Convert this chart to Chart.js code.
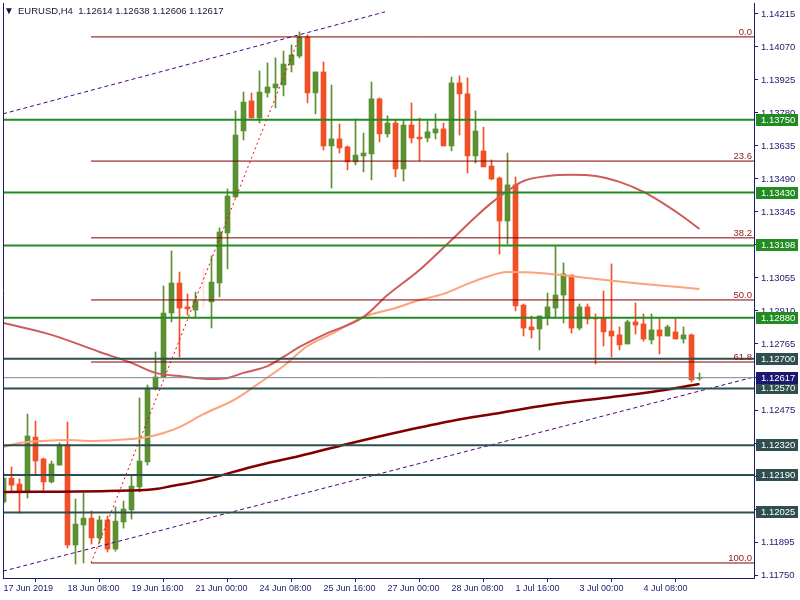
<!DOCTYPE html>
<html>
<head>
<meta charset="utf-8">
<title>EURUSD,H4</title>
<script src="https://cdn.jsdelivr.net/npm/chart.js"></script>
<style>
  html, body { margin: 0; padding: 0; background: #fff; }
  #chart { display: block; }
</style>
</head>
<body>
<canvas id="chart" width="800" height="600"></canvas>
<script>
// --- EURUSD H4 candles (bar 0 = 17 Jun 2019 00:00) ---
const opens = [
  1.12071, 1.12176, 1.12150, 1.12119, 1.12356, 1.12260, 1.12159, 1.12233, 1.12321, 1.11882,
  1.11970, 1.12000, 1.11913, 1.11992, 1.11864, 1.11983, 1.12036, 1.12137, 1.12247, 1.12572,
  1.12620, 1.12901, 1.13033, 1.12928, 1.12914, 1.12954, 1.12950, 1.13033, 1.13253, 1.13411,
  1.13701, 1.13833, 1.13758, 1.13868, 1.13890, 1.13903, 1.13991, 1.14030, 1.14114, 1.13868,
  1.13960, 1.13635, 1.13666, 1.13631, 1.13565, 1.13591, 1.13600, 1.13842, 1.13688, 1.13736,
  1.13534, 1.13727, 1.13674, 1.13670, 1.13692, 1.13710, 1.13635, 1.13912, 1.13864, 1.13591,
  1.13613, 1.13547, 1.13494, 1.13305, 1.13464, 1.12936, 1.12840, 1.12831, 1.12884, 1.12923,
  1.12980, 1.13068, 1.12835, 1.12928, 1.12879, 1.12879, 1.12822, 1.12805, 1.12765, 1.12862,
  1.12853, 1.12783, 1.12827, 1.12800, 1.12818, 1.12787, 1.12805, 1.12614
];
const highs = [
  1.12198, 1.12225, 1.12172, 1.12457, 1.12427, 1.12264, 1.12251, 1.12330, 1.12422, 1.12084,
  1.12110, 1.12031, 1.12009, 1.12009, 1.12049, 1.12075, 1.12189, 1.12528, 1.12585, 1.12730,
  1.13020, 1.13174, 1.13081, 1.12985, 1.12993, 1.13095, 1.13152, 1.13275, 1.13446, 1.13789,
  1.13872, 1.13868, 1.13965, 1.14000, 1.14022, 1.14052, 1.14079, 1.14136, 1.14123, 1.13960,
  1.14004, 1.13903, 1.13732, 1.13635, 1.13754, 1.13692, 1.13916, 1.13846, 1.13767, 1.13749,
  1.13749, 1.13824, 1.13758, 1.13745, 1.13776, 1.13736, 1.13938, 1.13943, 1.13934, 1.13789,
  1.13718, 1.13574, 1.13499, 1.13604, 1.13499, 1.12941, 1.12888, 1.12888, 1.12989, 1.13196,
  1.13121, 1.13068, 1.12941, 1.12941, 1.12897, 1.12998, 1.13117, 1.12840, 1.12870, 1.12945,
  1.12897, 1.12897, 1.12879, 1.12848, 1.12879, 1.12840, 1.12809, 1.12638
];
const lows = [
  1.12062, 1.12115, 1.12022, 1.12088, 1.12194, 1.12123, 1.12154, 1.12233, 1.11869, 1.11798,
  1.11803, 1.11886, 1.11891, 1.11851, 1.11855, 1.11956, 1.11996, 1.12115, 1.12233, 1.12563,
  1.12616, 1.12862, 1.12708, 1.12892, 1.12884, 1.12928, 1.12835, 1.12972, 1.13095, 1.13407,
  1.13661, 1.13758, 1.13736, 1.13850, 1.13802, 1.13855, 1.13960, 1.14022, 1.13824, 1.13776,
  1.13617, 1.13450, 1.13604, 1.13530, 1.13552, 1.13521, 1.13486, 1.13653, 1.13674, 1.13499,
  1.13481, 1.13648, 1.13569, 1.13653, 1.13666, 1.13635, 1.13613, 1.13683, 1.13516, 1.13560,
  1.13543, 1.13486, 1.13160, 1.13204, 1.12910, 1.12800, 1.12791, 1.12739, 1.12848, 1.12884,
  1.12857, 1.12813, 1.12827, 1.12853, 1.12677, 1.12756, 1.12708, 1.12739, 1.12765, 1.12809,
  1.12778, 1.12765, 1.12721, 1.12800, 1.12787, 1.12769, 1.12598, 1.12606
];
const closes = [
  1.12176, 1.12145, 1.12119, 1.12361, 1.12251, 1.12159, 1.12238, 1.12321, 1.11882, 1.11974,
  1.12000, 1.11913, 1.11992, 1.11864, 1.11987, 1.12040, 1.12141, 1.12251, 1.12572, 1.12620,
  1.12901, 1.13033, 1.12923, 1.12919, 1.12954, 1.12954, 1.13037, 1.13257, 1.13415, 1.13683,
  1.13828, 1.13758, 1.13872, 1.13894, 1.13907, 1.13995, 1.14035, 1.14114, 1.13868, 1.13960,
  1.13635, 1.13666, 1.13626, 1.13565, 1.13595, 1.13604, 1.13842, 1.13688, 1.13736, 1.13534,
  1.13727, 1.13670, 1.13666, 1.13697, 1.13710, 1.13635, 1.13912, 1.13864, 1.13591, 1.13701,
  1.13543, 1.13490, 1.13305, 1.13464, 1.12932, 1.12835, 1.12827, 1.12888, 1.12928, 1.12980,
  1.13073, 1.12835, 1.12928, 1.12875, 1.12875, 1.12818, 1.12800, 1.12761, 1.12862, 1.12848,
  1.12787, 1.12827, 1.12800, 1.12840, 1.12787, 1.12805, 1.12607, 1.12617
];

const maLongBars = [0, 13, 19, 21, 25, 31, 37, 43, 50, 56, 62, 68, 75, 81, 87];
const maLong = [1.12115, 1.12119, 1.12128, 1.12141, 1.12167, 1.12225, 1.12273, 1.12326,
                1.12383, 1.12427, 1.12462, 1.12497, 1.12528, 1.12554, 1.12589];
const maMidBars = [0, 2, 5, 8, 11, 14, 16, 18, 20, 22, 25, 29, 32, 35, 38, 41, 45, 49, 52, 55,
                   58, 60, 63, 67, 73, 80, 87];
const maMid = [1.12312, 1.12330, 1.12339, 1.12343, 1.12339, 1.12343, 1.12348, 1.12356, 1.12374,
               1.12400, 1.12457, 1.12523, 1.12594, 1.12668, 1.12756, 1.12809, 1.12884, 1.12923,
               1.12958, 1.12985, 1.13029, 1.13055, 1.13081, 1.13077, 1.13055, 1.13029, 1.13007];
const maShortBars = [0, 6, 12, 16, 19, 22, 26, 28, 30, 33, 35, 37, 40, 45, 48, 52, 56, 59, 61,
                     63, 65, 68, 71, 74, 77, 80, 83, 85, 87];
const maShort = [1.12857, 1.12805, 1.12730, 1.12682, 1.12638, 1.12624, 1.12611, 1.12616, 1.12638,
                 1.12668, 1.12708, 1.12752, 1.12805, 1.12884, 1.12980, 1.13090, 1.13222, 1.13323,
                 1.13385, 1.13437, 1.13481, 1.13503, 1.13508, 1.13503, 1.13477, 1.13433, 1.13371,
                 1.13323, 1.13270];

// horizontal levels
const greenLevels = [1.13750, 1.13430, 1.13198, 1.12880];
const slateLevels = [1.12700, 1.12570, 1.12320, 1.12190, 1.12025];

// fibo retracement: anchor bars / prices
const fibBars = [10.94, 37];
const fibPrices = [1.11803, 1.14114];
const fibRatios = [0, 23.6, 38.2, 50, 61.8, 100];

// channel
const chanLowBars = [-0.06, 93.81];
const chanLowPrices = [1.11767, 1.12620];
const chanHighBars = [-0.06, 47.69];
const chanHighPrices = [1.13776, 1.14224];

// axes
const xTickBars = [0, 8, 16, 24, 32, 40, 48, 56, 64, 72, 80];
const xTickLabels = ['17 Jun 2019', '18 Jun 08:00', '19 Jun 16:00', '21 Jun 00:00', '24 Jun 08:00',
                     '25 Jun 16:00', '27 Jun 00:00', '28 Jun 08:00', '1 Jul 16:00', '3 Jul 00:00', '4 Jul 08:00'];
const yTicks = [1.14215, 1.14070, 1.13925, 1.13780, 1.13635, 1.13490, 1.13345, 1.13200, 1.13055,
                1.12910, 1.12765, 1.12620, 1.12475, 1.12330, 1.12185, 1.12040, 1.11895, 1.11750];

// --- styling ---
const BULL = '#5b9033', BEAR = '#f14f25', DOJI = '#f3e4dc';
const AXIS = '#1b1b6e';
const FONT = '"Liberation Sans", Arial, sans-serif';
const X_MIN = -0.0625, X_MAX = 93.8125;
const Y_MIN = 1.11737, Y_MAX = 1.14263;

const last = closes.length - 1;
const bid = closes[last];
const candleColors = opens.map((o, i) => closes[i] > o ? BULL : (closes[i] < o ? BEAR : DOJI));

function pts(bars, vals) { return bars.map((b, i) => ({ x: b, y: vals[i] })); }

function lineSet(data, color, width, order, dash) {
    return {
        type: 'line', data, borderColor: color, borderWidth: width, borderDash: dash || [],
        pointRadius: 0, fill: false, order, cubicInterpolationMode: 'monotone'
    };
}

const fibLevels = fibRatios.map(r => fibPrices[1] - r / 100 * (fibPrices[1] - fibPrices[0]));

const datasets = [
    {   // wicks
        type: 'bar', data: highs.map((h, i) => ({ x: i, y: [lows[i], h] })),
        backgroundColor: candleColors, barThickness: 1, grouped: false, order: 20
    },
    {   // bodies
        type: 'bar', data: opens.map((o, i) => ({ x: i, y: [o, closes[i]] })),
        backgroundColor: candleColors, barThickness: 5, minBarLength: 1, grouped: false, order: 19
    },
    lineSet(pts(maLongBars, maLong), '#800000', 2.5, 10),
    lineSet(pts(maMidBars, maMid), '#fca27c', 2, 9),
    lineSet(pts(maShortBars, maShort), '#cd5c5c', 2, 8),
    lineSet(pts(chanLowBars, chanLowPrices), '#4b0082', 1, 5, [4, 3]),
    lineSet(pts(chanHighBars, chanHighPrices), '#4b0082', 1, 5, [4, 3]),
    lineSet(pts(fibBars, fibPrices), '#ff0000', 1, 5, [2, 3]),
];
fibLevels.forEach(v => datasets.push(lineSet([{ x: fibBars[0], y: v }, { x: X_MAX, y: v }], '#800000', 1, 4)));
greenLevels.forEach(v => datasets.push(lineSet([{ x: X_MIN, y: v }, { x: X_MAX, y: v }], '#228b22', 2, 2)));
slateLevels.forEach(v => datasets.push(lineSet([{ x: X_MIN, y: v }, { x: X_MAX, y: v }], '#2f4f4f', 2, 2)));
datasets.push(lineSet([{ x: X_MIN, y: bid }, { x: X_MAX, y: bid }], '#778899', 1, 3));

// --- frame, price tags, fibo captions, title ---
const overlay = {
    id: 'overlay',
    afterDraw(chart) {
        const { ctx, chartArea: a, scales: { y } } = chart;
        ctx.save();
        ctx.strokeStyle = AXIS;
        ctx.lineWidth = 1;
        ctx.beginPath();
        ctx.moveTo(a.left + 0.5, a.top);
        ctx.lineTo(a.left + 0.5, a.bottom);
        ctx.stroke();

        ctx.font = '9.5px ' + FONT;
        ctx.textAlign = 'right';
        ctx.textBaseline = 'alphabetic';
        ctx.fillStyle = '#8b1a10';
        fibLevels.forEach((v, i) => {
            ctx.fillText(fibRatios[i].toFixed(1), a.right - 2, Math.round(y.getPixelForValue(v)) - 2);
        });

        const tag = (v, bg) => {
            const py = Math.round(y.getPixelForValue(v));
            ctx.fillStyle = bg;
            ctx.fillRect(a.right + 2, py - 6, 42, 12);
            ctx.fillStyle = '#ffffff';
            ctx.textAlign = 'left';
            ctx.textBaseline = 'middle';
            ctx.fillText(v.toFixed(5), a.right + 7, py);
        };
        greenLevels.forEach(v => tag(v, '#228b22'));
        slateLevels.forEach(v => tag(v, '#2f4f4f'));
        tag(bid, '#191970');

        ctx.fillStyle = '#14143c';
        ctx.textAlign = 'left';
        ctx.textBaseline = 'middle';
        ctx.font = '10px ' + FONT;
        ctx.fillText('▼', 4, 11);
        ctx.font = '9.5px ' + FONT;
        ctx.fillText('EURUSD,H4  ' + [opens[last], highs[last], lows[last], closes[last]]
            .map(v => v.toFixed(5)).join(' '), 18, 11);
        ctx.restore();
    }
};

// drop the half-label padding Chart.js reserves at the axis ends
function noEndPadding(s) {
    s.paddingTop = 0; s.paddingBottom = 0; s.paddingLeft = 0; s.paddingRight = 0;
}

new Chart(document.getElementById('chart'), {
    type: 'bar',
    data: { datasets },
    options: {
        responsive: false,
        animation: false,
        devicePixelRatio: 1,
        layout: { padding: { left: 3, top: 3, right: 0, bottom: 0 } },
        plugins: { legend: { display: false }, tooltip: { enabled: false } },
        scales: {
            x: {
                type: 'linear', min: X_MIN, max: X_MAX, offset: false,
                afterFit: s => { s.height = 22; noEndPadding(s); },
                afterBuildTicks: s => { s.ticks = xTickBars.map(v => ({ value: v })); },
                grid: { drawOnChartArea: false, drawTicks: true, tickLength: 4, tickColor: AXIS },
                border: { display: true, color: AXIS },
                ticks: {
                    autoSkip: false, maxRotation: 0, align: 'start', padding: 1, color: AXIS,
                    font: { family: FONT, size: 9 },
                    callback: (v, i) => xTickLabels[i]
                }
            },
            y: {
                type: 'linear', position: 'right', min: Y_MIN, max: Y_MAX,
                afterFit: s => { s.width = 46; noEndPadding(s); },
                afterBuildTicks: s => { s.ticks = yTicks.map(v => ({ value: v })); },
                grid: { drawOnChartArea: false, drawTicks: true, tickLength: 4, tickColor: AXIS },
                border: { display: true, color: AXIS },
                ticks: {
                    autoSkip: false, padding: 3, color: AXIS,
                    font: { family: FONT, size: 9.5 },
                    callback: v => v.toFixed(5)
                }
            }
        }
    },
    plugins: [overlay]
});
</script>
</body>
</html>
